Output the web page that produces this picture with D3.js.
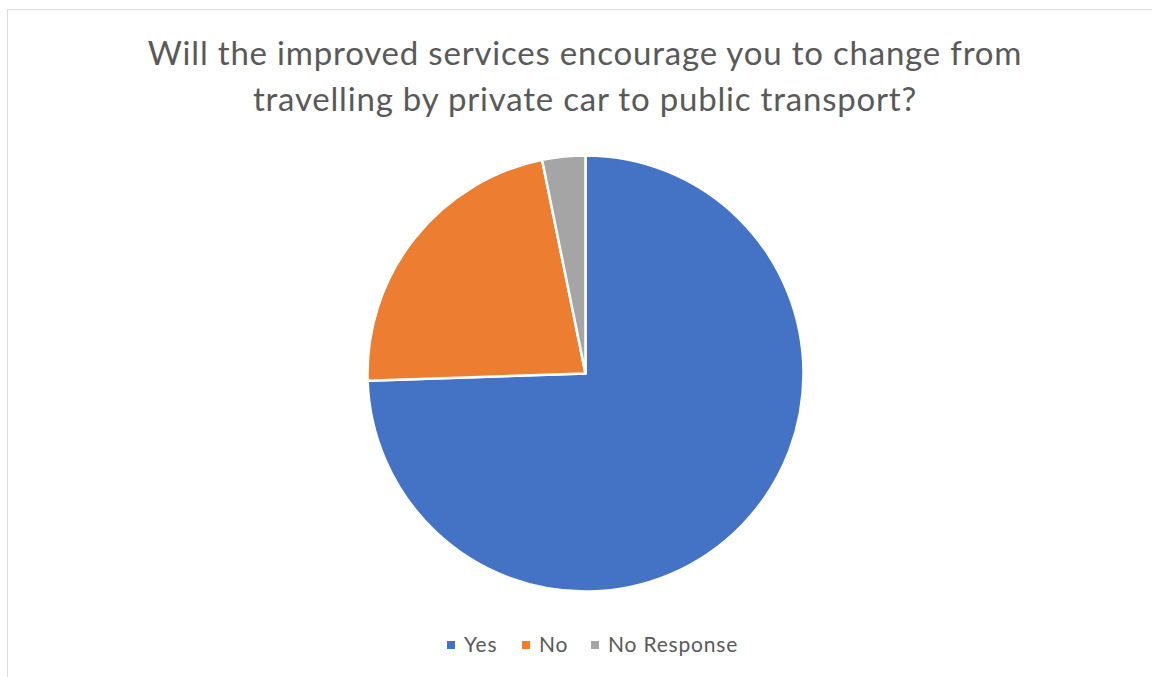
<!DOCTYPE html>
<html>
<head>
<meta charset="utf-8">
<script src="https://cdn.jsdelivr.net/npm/d3@7"></script>
<style>
  body { margin: 0; background: #fff; }
  svg { display: block; }
</style>
</head>
<body>
<div id="chart-area"></div>
<script>
// survey answers (counts)
const categories = ["Yes", "No", "No Response"];
const values = [70, 21, 3];
const colors = ["#4472c4", "#ed7d31", "#a5a5a5"];
const titleLines = [
  "Will the improved services encourage you to change from",
  "travelling by private car to public transport?"
];

const width = 1152,
  height = 677;

let svg = d3
  .select("#chart-area")
  .append("svg")
  .attr("width", width)
  .attr("height", height);

// chart frame (only top and left edges show in the crop)
svg
  .append("path")
  .attr("d", "M7.5," + height + "V9.5H" + width)
  .attr("fill", "none")
  .attr("stroke", "#d9d9d9")
  .attr("stroke-width", 1);

// TITLE
svg
  .append("g")
  .selectAll("text")
  .data(titleLines)
  .enter()
  .append("text")
  .attr("x", 585)
  .attr("y", (d, i) => 65 + i * 46)
  .attr("text-anchor", "middle")
  .attr("font-family", "Lato, 'Open Sans', sans-serif")
  .attr("font-size", 33)
  .attr("letter-spacing", 0.8)
  .attr("fill", "#595959")
  .text((d) => d);

// PIE
let pie = d3.pie().sort(null).value((d) => d);
let arc = d3.arc().innerRadius(0).outerRadius(218);

let pieGroup = svg
  .append("g")
  .attr("transform", "translate(585.5,373.5)");

pieGroup
  .selectAll("path")
  .data(pie(values))
  .enter()
  .append("path")
  .attr("d", arc)
  .attr("fill", (d, i) => colors[i])
  .attr("stroke", "#fff")
  .attr("stroke-width", 2.5)
  .attr("stroke-linejoin", "round");

// LEGEND
let legendX = d3.scaleOrdinal().domain(categories).range([447, 522, 591]);

let legend = svg
  .append("g")
  .selectAll("g")
  .data(categories)
  .enter()
  .append("g")
  .attr("transform", (d) => "translate(" + legendX(d) + ",645)");

legend
  .append("rect")
  .attr("x", 0)
  .attr("y", -4)
  .attr("width", 8)
  .attr("height", 8)
  .attr("fill", (d, i) => colors[i]);

legend
  .append("text")
  .attr("x", 17)
  .attr("y", 7)
  .attr("font-family", "Lato, 'Open Sans', sans-serif")
  .attr("font-size", 21)
  .attr("letter-spacing", 0.8)
  .attr("fill", "#595959")
  .text((d) => d);
</script>
</body>
</html>
